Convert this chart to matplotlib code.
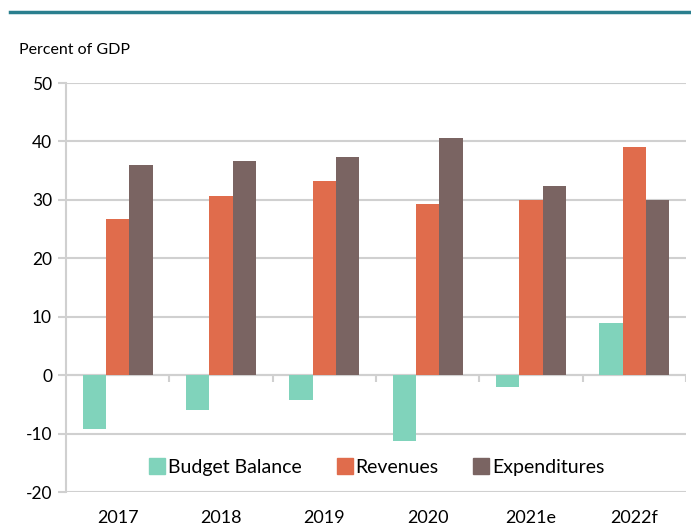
import numpy as np
import matplotlib.pyplot as plt
from matplotlib.lines import Line2D

years = ["2017", "2018", "2019", "2020", "2021e", "2022f"]
budget_balance = [-9.2, -5.9, -4.2, -11.3, -2.0, 9.0]
revenues = [26.7, 30.6, 33.2, 29.3, 30.0, 39.0]
expenditures = [36.0, 36.6, 37.4, 40.6, 32.4, 30.0]

plt.rcParams['font.family'] = ['Lato', 'DejaVu Sans']
plt.rcParams['axes.unicode_minus'] = False

c_bb = "#80d3bb"
c_rev = "#e06c4c"
c_exp = "#7a6462"
grid_c = "#d0d0d0"

fig = plt.figure(figsize=(6.91, 5.29), dpi=100)
ax = fig.add_axes([0.0955, 0.0699, 0.8973, 0.7732])

x = np.arange(len(years))
w = 0.225
ax.bar(x - w, budget_balance, w, color=c_bb, label="Budget Balance")
ax.bar(x, revenues, w, color=c_rev, label="Revenues")
ax.bar(x + w, expenditures, w, color=c_exp, label="Expenditures")

ax.set_xlim(-0.5, len(years) - 0.5)
ax.set_ylim(-20, 50)
ax.set_yticks(range(-20, 51, 10))
ax.yaxis.grid(True, color=grid_c, linewidth=1.5)
ax.set_axisbelow(True)

for s in ["top", "right", "bottom"]:
    ax.spines[s].set_visible(False)
ax.spines["left"].set_color(grid_c)
ax.spines["left"].set_linewidth(1.5)

ax.tick_params(axis="y", length=6, color=grid_c, width=1.5, labelsize=12.5, pad=4)
ax.set_xticks(x)
ax.set_xticklabels(years)
ax.tick_params(axis="x", length=0, labelsize=13, pad=13)

# zero line with category separators
ax.axhline(0, color=grid_c, linewidth=1.5, zorder=0.5)
ax.vlines(np.arange(0.5, len(years), 1), -1.1, 0, color=grid_c, linewidth=1.5, zorder=0.5)

handles = [Line2D([], [], marker="s", linestyle="none", markersize=11, color=c)
           for c in (c_bb, c_rev, c_exp)]
ax.legend(handles, ["Budget Balance", "Revenues", "Expenditures"], loc="center",
          bbox_to_anchor=(0.5, 0.061), ncol=3, frameon=False, fontsize=14,
          handletextpad=0.05, columnspacing=1.7, handlelength=1.0)

fig.text(19 / 691, 1 - 50 / 529, "Percent of GDP", fontsize=11.5, va="center", ha="left")
fig.add_artist(Line2D([10 / 691, 1], [1 - 12 / 529, 1 - 12 / 529], color="#2a7f8e", linewidth=2.5))

fig.savefig("out.png", dpi=100)
plt.close(fig)
